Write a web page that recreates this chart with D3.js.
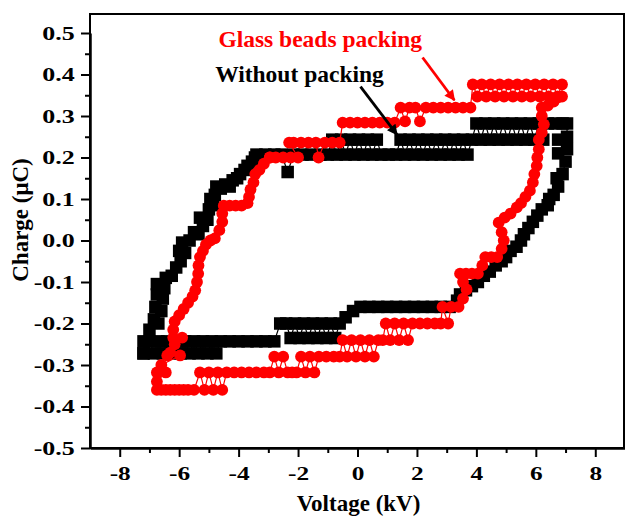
<!DOCTYPE html>
<html>
<head>
<meta charset="utf-8">
<script src="https://cdn.jsdelivr.net/npm/d3@7"></script>
<style>
  body { margin: 0; background: #fff; }
  text { font-family: "Liberation Serif", "Times New Roman", serif; font-weight: bold; }
</style>
</head>
<body>
<svg id="chart" width="625" height="516"></svg>
<script>
// Axis ticks and labels
const xTicks = [-8, -6, -4, -2, 0, 2, 4, 6, 8];
const xTickLabels = ["-8", "-6", "-4", "-2", "0", "2", "4", "6", "8"];
const xMinorTicks = [-7, -5, -3, -1, 1, 3, 5, 7];
const yTicks = [-0.5, -0.4, -0.3, -0.2, -0.1, 0, 0.1, 0.2, 0.3, 0.4, 0.5];
const yTickLabels = ["-0.5", "-0.4", "-0.3", "-0.2", "-0.1", "0.0", "0.1", "0.2", "0.3", "0.4", "0.5"];
const yMinorTicks = [-0.45, -0.35, -0.25, -0.15, -0.05, 0.05, 0.15, 0.25, 0.35, 0.45];

// Q-V loop, without packing: [voltage kV, charge uC]
const withoutPacking = [
  // left branch going up
  [-7.2, -0.272], [-7.2, -0.243], [-7.0, -0.215], [-6.7, -0.2], [-6.85, -0.19], [-6.6, -0.17],
  [-6.8, -0.16], [-6.55, -0.14], [-6.75, -0.13], [-6.5, -0.115], [-6.75, -0.105], [-6.45, -0.09],
  [-6.25, -0.085], [-6.1, -0.065], [-5.95, -0.05], [-6.0, -0.025], [-5.8, -0.03], [-5.9, -0.005],
  [-5.65, 0.0], [-5.5, 0.02], [-5.35, 0.015], [-5.2, 0.035], [-5.3, 0.055], [-5.05, 0.05],
  [-5.0, 0.075], [-4.85, 0.085], [-4.95, 0.1], [-4.8, 0.11], [-4.75, 0.13], [-4.6, 0.125],
  [-4.45, 0.135], [-4.3, 0.13], [-4.2, 0.145], [-4.05, 0.15], [-3.95, 0.16], [-3.8, 0.17],
  [-3.7, 0.18], [-3.55, 0.19], [-3.45, 0.2],
  // upper branch
  [-3.4, 0.207], [-3.1, 0.207], [-2.8, 0.207], [-2.55, 0.207], [-2.35, 0.165], [-2.15, 0.207],
  [-1.85, 0.207], [-1.55, 0.207], [-1.25, 0.207], [-1.0, 0.207],
  [-0.85, 0.243], [-0.7, 0.207], [-0.55, 0.243], [-0.4, 0.207], [-0.25, 0.243], [-0.1, 0.207],
  [0.05, 0.243], [0.2, 0.207], [0.35, 0.243], [0.5, 0.207], [0.65, 0.243], [0.8, 0.207],
  [1.05, 0.207], [1.3, 0.207],
  [1.45, 0.243], [1.6, 0.207], [1.75, 0.243], [1.9, 0.207], [2.05, 0.243], [2.2, 0.207],
  [2.35, 0.243], [2.5, 0.207], [2.65, 0.243], [2.8, 0.207], [2.95, 0.243], [3.1, 0.207],
  [3.25, 0.243], [3.4, 0.207], [3.55, 0.243], [3.7, 0.207],
  [3.85, 0.243], [4.0, 0.282], [4.15, 0.243], [4.3, 0.282], [4.45, 0.243], [4.6, 0.282],
  [4.75, 0.243], [4.9, 0.282], [5.05, 0.243], [5.2, 0.282], [5.35, 0.243], [5.5, 0.282],
  [5.65, 0.243], [5.8, 0.282], [5.95, 0.243], [6.1, 0.282], [6.25, 0.243], [6.4, 0.282],
  [6.65, 0.282], [6.9, 0.282], [7.05, 0.282],
  // right branch going down
  [7.05, 0.25], [6.75, 0.243], [7.05, 0.22], [6.75, 0.21], [7.0, 0.19], [6.9, 0.16], [6.7, 0.15],
  [6.75, 0.13], [6.6, 0.11], [6.45, 0.1], [6.4, 0.085], [6.2, 0.075], [6.05, 0.06], [5.9, 0.045],
  [5.75, 0.03], [5.6, 0.015], [5.5, 0.0], [5.35, -0.015], [5.15, -0.025], [5.0, -0.04],
  [4.85, -0.05], [4.65, -0.06], [4.45, -0.075], [4.25, -0.085], [4.05, -0.1], [3.85, -0.11],
  [3.65, -0.12], [3.45, -0.13], [3.35, -0.145], [3.1, -0.16],
  // lower branch
  [2.8, -0.16], [2.5, -0.16], [2.2, -0.16], [1.9, -0.16], [1.6, -0.16], [1.3, -0.16], [1.0, -0.16],
  [0.7, -0.16], [0.4, -0.16], [0.1, -0.16], [-0.15, -0.17], [-0.4, -0.185],
  [-0.6, -0.2], [-0.75, -0.235], [-0.9, -0.2], [-1.05, -0.235], [-1.2, -0.2], [-1.35, -0.235],
  [-1.5, -0.2], [-1.65, -0.235], [-1.8, -0.2], [-1.95, -0.235], [-2.1, -0.2], [-2.25, -0.235],
  [-2.4, -0.2], [-2.6, -0.2],
  [-2.8, -0.243], [-3.1, -0.243], [-3.4, -0.243], [-3.7, -0.243], [-4.0, -0.243], [-4.3, -0.243],
  [-4.6, -0.243], [-4.75, -0.272], [-4.9, -0.243], [-5.05, -0.272], [-5.2, -0.243], [-5.35, -0.272],
  [-5.5, -0.243], [-5.65, -0.272], [-5.8, -0.243], [-5.95, -0.272], [-6.1, -0.243], [-6.25, -0.272],
  [-6.4, -0.243], [-6.55, -0.272], [-6.7, -0.243], [-6.85, -0.272], [-7.0, -0.243], [-7.2, -0.272]
];

// Q-V loop, glass beads packing: [voltage kV, charge uC]
const glassBeads = [
  // left branch going down
  [-2.95, 0.2], [-3.15, 0.185], [-3.3, 0.17], [-3.44, 0.16], [-3.5, 0.14], [-3.6, 0.123],
  [-3.65, 0.105], [-3.7, 0.09], [-3.9, 0.084], [-4.1, 0.084], [-4.3, 0.084], [-4.5, 0.084],
  [-4.55, 0.065], [-4.55, 0.045], [-4.65, 0.025], [-4.8, 0.005], [-4.95, 0.0], [-5.1, -0.01],
  [-5.2, -0.025], [-5.3, -0.04], [-5.35, -0.06], [-5.36, -0.08], [-5.4, -0.1], [-5.46, -0.12],
  [-5.55, -0.135], [-5.7, -0.15], [-5.85, -0.165], [-6.0, -0.18], [-6.15, -0.195], [-6.2, -0.215],
  [-6.2, -0.234], [-5.9, -0.234], [-6.15, -0.25], [-6.3, -0.27], [-6.4, -0.277], [-5.97, -0.277],
  [-6.6, -0.3], [-6.75, -0.318], [-6.45, -0.318], [-6.75, -0.34], [-6.75, -0.36],
  // lower branch
  [-6.6, -0.36], [-6.45, -0.36], [-6.3, -0.36], [-6.15, -0.36], [-6.0, -0.36], [-5.85, -0.36],
  [-5.7, -0.36], [-5.5, -0.36], [-5.3, -0.318], [-5.15, -0.36], [-5.0, -0.318], [-4.85, -0.36],
  [-4.7, -0.318], [-4.55, -0.36], [-4.4, -0.318],
  [-4.15, -0.318], [-3.9, -0.318], [-3.65, -0.318], [-3.4, -0.318], [-3.15, -0.318], [-2.95, -0.318],
  [-2.8, -0.28], [-2.65, -0.318], [-2.5, -0.28], [-2.35, -0.318], [-2.2, -0.318], [-2.05, -0.318],
  [-1.9, -0.28], [-1.75, -0.318], [-1.6, -0.28], [-1.45, -0.318],
  [-1.3, -0.28], [-1.05, -0.28], [-0.8, -0.28], [-0.6, -0.28],
  [-0.5, -0.24], [-0.35, -0.28], [-0.2, -0.24], [-0.05, -0.28], [0.1, -0.24], [0.25, -0.28],
  [0.4, -0.24], [0.55, -0.28], [0.7, -0.24], [0.85, -0.24],
  [0.95, -0.2], [1.1, -0.24], [1.25, -0.2], [1.4, -0.24], [1.55, -0.2], [1.7, -0.24], [1.85, -0.2],
  [2.1, -0.2], [2.35, -0.2], [2.6, -0.2], [2.8, -0.2], [2.86, -0.16], [3.05, -0.2], [3.15, -0.16],
  [3.4, -0.16],
  // right branch going up
  [3.55, -0.14], [3.67, -0.118], [3.55, -0.1], [3.45, -0.08], [3.65, -0.08], [3.85, -0.08],
  [4.05, -0.08], [4.2, -0.06], [4.3, -0.04], [4.5, -0.04], [4.7, -0.04], [4.85, -0.02], [4.92, 0.0],
  [4.85, 0.02], [4.75, 0.043], [4.95, 0.055], [5.15, 0.065], [5.36, 0.08], [5.5, 0.09],
  [5.65, 0.105], [5.8, 0.12], [5.9, 0.14], [5.95, 0.16], [6.03, 0.18], [6.05, 0.2], [6.1, 0.22],
  [6.1, 0.243], [6.2, 0.26], [6.27, 0.28], [6.2, 0.3], [6.2, 0.32], [6.4, 0.325], [6.6, 0.335],
  [6.75, 0.345], [6.88, 0.347], [6.88, 0.376],
  // upper branch
  [6.73, 0.347], [6.58, 0.376], [6.43, 0.347], [6.28, 0.376], [6.13, 0.347], [5.98, 0.376],
  [5.83, 0.347], [5.68, 0.376], [5.53, 0.347], [5.38, 0.376], [5.23, 0.347], [5.08, 0.376],
  [4.93, 0.347], [4.78, 0.376], [4.63, 0.347], [4.48, 0.376], [4.33, 0.347], [4.18, 0.376],
  [4.03, 0.347], [3.88, 0.376], [3.8, 0.32],
  [3.55, 0.32], [3.3, 0.32], [3.05, 0.32], [2.8, 0.32], [2.55, 0.32], [2.3, 0.32], [2.1, 0.287],
  [1.95, 0.32], [1.75, 0.32], [1.6, 0.287], [1.45, 0.32],
  [1.25, 0.284], [1.0, 0.284], [0.75, 0.284], [0.5, 0.284], [0.25, 0.284], [0.0, 0.284],
  [-0.25, 0.284], [-0.5, 0.284],
  [-0.6, 0.236], [-0.85, 0.236], [-1.1, 0.236], [-1.31, 0.2], [-1.4, 0.236], [-1.65, 0.236],
  [-1.9, 0.236], [-2.15, 0.236], [-2.3, 0.236],
  [-2.0, 0.2], [-2.25, 0.2], [-2.5, 0.2], [-2.75, 0.2], [-2.95, 0.2]
];

// Annotations: text position and arrow [from, to] in data units
const labelNames = ["Glass beads packing", "Without packing"];
const labelColors = ["#ff0000", "#000000"];
const labelPos = [[-4.68, 0.467], [-4.79, 0.383]];
const arrowFrom = [[2.19, 0.441], [0.10, 0.371]];
const arrowTo = [[3.26, 0.338], [1.33, 0.255]];

const svg = d3.select("#chart");
const plotLeft = 90, plotRight = 625, plotTop = 14, plotBottom = 448;

const x = d3.scaleLinear().domain([-9, 9]).range([plotLeft, plotRight]);
const y = d3.scaleLinear().domain([-0.5, 0.5]).range([plotBottom, 33]);

// frame
svg.append("rect")
  .attr("x", plotLeft).attr("y", plotTop)
  .attr("width", plotRight - 1 - plotLeft).attr("height", plotBottom - plotTop)
  .attr("fill", "none").attr("stroke", "#000").attr("stroke-width", 2);

// minor ticks
svg.append("g")
  .attr("transform", "translate(0," + plotBottom + ")")
  .call(d3.axisBottom(x).tickValues(xMinorTicks).tickSize(5).tickFormat(""))
  .call(g => g.select(".domain").remove())
  .selectAll("line").attr("stroke-width", 2);
svg.append("g")
  .attr("transform", "translate(" + plotLeft + ",0)")
  .call(d3.axisLeft(y).tickValues(yMinorTicks).tickSize(5).tickFormat(""))
  .call(g => g.select(".domain").remove())
  .selectAll("line").attr("stroke-width", 2);

// x axis
const xAxis = svg.append("g")
  .attr("transform", "translate(0," + plotBottom + ")")
  .call(d3.axisBottom(x).tickValues(xTicks).tickSize(9).tickSizeOuter(0)
    .tickFormat((d, i) => xTickLabels[i]));
xAxis.select(".domain").attr("stroke-width", 2.5);
xAxis.selectAll("line").attr("stroke-width", 2);
xAxis.selectAll("text")
  .attr("y", 18)
  .attr("font-size", 19.5)
  .attr("transform", "scale(1.3,1)")
  .attr("fill", "#000");

// y axis
const yAxis = svg.append("g")
  .attr("transform", "translate(" + plotLeft + ",0)")
  .call(d3.axisLeft(y).tickValues(yTicks).tickSize(9).tickSizeOuter(0)
    .tickFormat((d, i) => yTickLabels[i]));
yAxis.select(".domain").attr("stroke-width", 2.5);
yAxis.selectAll("line").attr("stroke-width", 2);
yAxis.selectAll("text")
  .attr("x", -11.5)
  .attr("font-size", 19.5)
  .attr("transform", "scale(1.33,1)")
  .attr("fill", "#000");

// axis titles
svg.append("text")
  .attr("x", (plotLeft + plotRight) / 2 + 1)
  .attr("y", 511)
  .attr("text-anchor", "middle")
  .attr("font-size", 23)
  .text("Voltage (kV)");
svg.append("text")
  .attr("transform", "translate(28,220) rotate(-90)")
  .attr("text-anchor", "middle")
  .attr("font-size", 23)
  .text("Charge (\u03bcC)");

// series
const line = d3.line().x(d => x(d[0])).y(d => y(d[1]));

svg.append("path")
  .datum(withoutPacking)
  .attr("d", line)
  .attr("fill", "none").attr("stroke", "#000").attr("stroke-width", 1.2);
svg.selectAll(".sq")
  .data(withoutPacking)
  .enter().append("rect")
  .attr("class", "sq")
  .attr("x", d => x(d[0]) - 6.25)
  .attr("y", d => y(d[1]) - 6.25)
  .attr("width", 12.5).attr("height", 12.5)
  .attr("fill", "#000");

svg.append("path")
  .datum(glassBeads)
  .attr("d", line)
  .attr("fill", "none").attr("stroke", "#ff0000").attr("stroke-width", 1.2);
svg.selectAll(".dot")
  .data(glassBeads)
  .enter().append("circle")
  .attr("class", "dot")
  .attr("cx", d => x(d[0]))
  .attr("cy", d => y(d[1]))
  .attr("r", 5.9)
  .attr("fill", "#ff0000");

// annotations
const defs = svg.append("defs");
labelColors.forEach((c, i) => {
  defs.append("marker")
    .attr("id", "arrow" + i)
    .attr("viewBox", "0 0 10 10")
    .attr("refX", 9).attr("refY", 5)
    .attr("markerWidth", 4.8).attr("markerHeight", 3.8)
    .attr("markerUnits", "strokeWidth")
    .attr("orient", "auto")
    .append("path")
    .attr("d", "M0,0 L10,5 L0,10 Z")
    .attr("fill", c);
});

labelNames.forEach((name, i) => {
  svg.append("line")
    .attr("x1", x(arrowFrom[i][0])).attr("y1", y(arrowFrom[i][1]))
    .attr("x2", x(arrowTo[i][0])).attr("y2", y(arrowTo[i][1]))
    .attr("stroke", labelColors[i])
    .attr("stroke-width", 2.8)
    .attr("marker-end", "url(#arrow" + i + ")");
  svg.append("text")
    .attr("x", x(labelPos[i][0]))
    .attr("y", y(labelPos[i][1]))
    .attr("font-size", 23.5)
    .attr("fill", labelColors[i])
    .text(name);
});
</script>
</body>
</html>
